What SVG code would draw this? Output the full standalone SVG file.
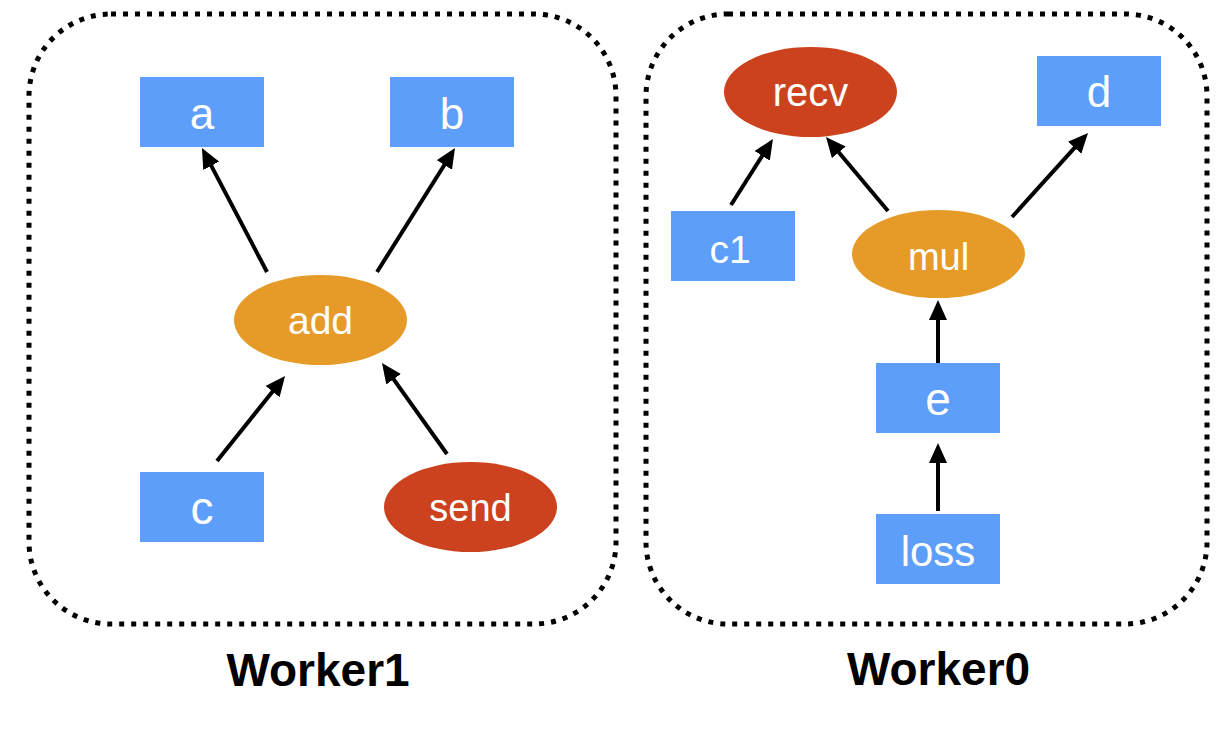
<svg xmlns="http://www.w3.org/2000/svg" width="1228" height="730" viewBox="0 0 1228 730">
<style>
.box{fill:none;stroke:#000;stroke-width:5;stroke-dasharray:5 7}
.var{fill:#5C9EFA}
.op{fill:#E69B28}
.comm{fill:#CC421E}
.lbl{fill:#fff;font-family:"Liberation Sans",Helvetica,Arial,sans-serif;text-anchor:middle}
.title{fill:#000;font-family:"Liberation Sans",Helvetica,Arial,sans-serif;font-weight:bold;font-size:46px;text-anchor:middle}
.edge{stroke:#000;stroke-width:4;fill:none;marker-end:url(#ah)}
</style>
<defs>
<marker id="ah" viewBox="0 0 20 18" refX="10" refY="9" markerWidth="20" markerHeight="18" markerUnits="userSpaceOnUse" orient="auto">
<path d="M0,0 L20,9 L0,18 z" fill="#000"/>
</marker>
</defs>
<rect class="box" x="29" y="14" width="587" height="610" rx="82" ry="82"/>
<rect class="box" x="646" y="14" width="561" height="610" rx="82" ry="82"/>
<g id="a"><rect class="var" x="140" y="77" width="124" height="70"/><text class="lbl" x="202" y="129" font-size="44">a</text></g>
<g id="b"><rect class="var" x="390" y="77" width="124" height="70"/><text class="lbl" x="452" y="129" font-size="44">b</text></g>
<g id="add"><ellipse class="op" cx="320.5" cy="320" rx="86.5" ry="45"/><text class="lbl" x="320.5" y="334" font-size="39">add</text></g>
<g id="c"><rect class="var" x="140" y="472" width="124" height="70"/><text class="lbl" x="202" y="524" font-size="46">c</text></g>
<g id="send"><ellipse class="comm" cx="470.5" cy="507" rx="86.5" ry="45"/><text class="lbl" x="470.5" y="521" font-size="38">send</text></g>
<g id="recv"><ellipse class="comm" cx="810.5" cy="92" rx="86.5" ry="45"/><text class="lbl" x="810.5" y="106" font-size="40">recv</text></g>
<g id="d"><rect class="var" x="1037" y="56" width="124" height="70"/><text class="lbl" x="1099" y="107" font-size="44">d</text></g>
<g id="c1"><rect class="var" x="671" y="211" width="124" height="70"/><text class="lbl" x="730" y="263" font-size="39">c1</text></g>
<g id="mul"><ellipse class="op" cx="938.5" cy="254" rx="86.5" ry="44"/><text class="lbl" x="938.5" y="270" font-size="38">mul</text></g>
<g id="e"><rect class="var" x="876" y="363" width="124" height="70"/><text class="lbl" x="938" y="415" font-size="46">e</text></g>
<g id="loss"><rect class="var" x="876" y="514" width="124" height="70"/><text class="lbl" x="938" y="566" font-size="42">loss</text></g>
<g id="connectors">
<line class="edge" x1="267" y1="272" x2="206.6" y2="156.9"/>
<line class="edge" x1="377" y1="272" x2="449.7" y2="156.5"/>
<line class="edge" x1="217" y1="461" x2="278.8" y2="383.8"/>
<line class="edge" x1="447" y1="454" x2="387.8" y2="371.1"/>
<line class="edge" x1="731" y1="205" x2="767.6" y2="147.4"/>
<line class="edge" x1="888" y1="211" x2="832.4" y2="144.7"/>
<line class="edge" x1="1012" y1="217" x2="1081.3" y2="140.4"/>
<line class="edge" x1="938" y1="363" x2="938" y2="310"/>
<line class="edge" x1="938" y1="511" x2="938" y2="453"/>
</g>
<g id="labels">
<text class="title" x="318" y="686">Worker1</text>
<text class="title" x="938.5" y="685" font-size="47">Worker0</text>
</g>
</svg>
